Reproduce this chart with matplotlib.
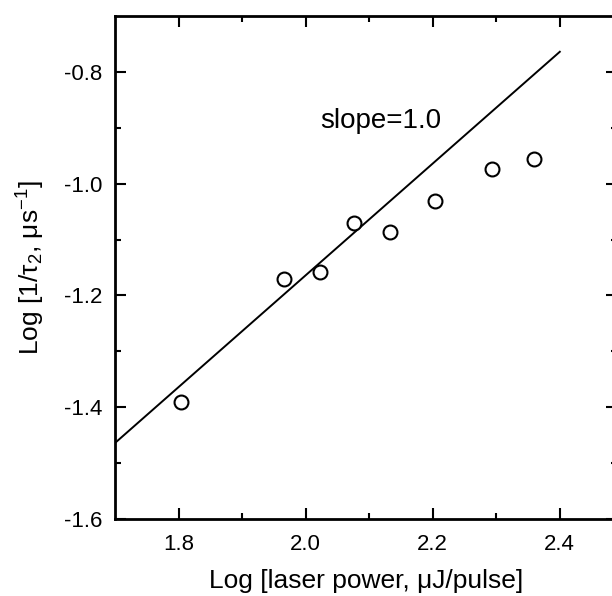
import numpy as np
import matplotlib.pyplot as plt

# измеренные точки (лог мощности лазера, лог 1/tau2)
log_power = [1.804, 1.966, 2.022, 2.076, 2.133, 2.203, 2.294, 2.360]
log_rate = [-1.391, -1.170, -1.158, -1.071, -1.086, -1.031, -0.974, -0.955]

# прямая с наклоном 1.0
fit_x = [1.7, 2.4]
fit_slope = 1.0
fit_icpt = -3.164

x_ticks = [1.8, 2.0, 2.2, 2.4]
y_ticks = [-1.6, -1.4, -1.2, -1.0, -0.8]

plt.rcParams['font.family'] = ['Liberation Sans', 'DejaVu Sans']
plt.rcParams['mathtext.fontset'] = 'custom'
plt.rcParams['mathtext.rm'] = 'Liberation Sans'
plt.rcParams['mathtext.it'] = 'Liberation Sans'

fig = plt.figure(figsize=(6.12, 5.96), dpi=100)
ax = fig.add_axes([115 / 612, 77 / 596, 502 / 612, 503 / 596])

fx = np.array(fit_x)
ax.plot(fx, fit_slope * fx + fit_icpt, color='black', lw=1.4)
ax.plot(log_power, log_rate, 'o', ms=10, mfc='white', mec='black', mew=1.5)

ax.text(2.119, -0.8875, 'slope=1.0', fontsize=20, ha='center', va='center')

ax.set_xlim(1.7, 2.49)
ax.set_ylim(-1.6, -0.70)
ax.set_xticks(x_ticks)
ax.set_xticklabels(['%.1f' % v for v in x_ticks])
ax.set_yticks(y_ticks)
ax.set_yticklabels(['%.1f' % v for v in y_ticks])
ax.set_xticks(np.arange(1.9, 2.45, 0.2), minor=True)
ax.set_yticks(np.arange(-1.5, -0.75, 0.2), minor=True)

ax.tick_params(which='both', direction='in', top=True, right=True, labelsize=16, width=1.5)
ax.tick_params(which='major', length=8)
ax.tick_params(axis='x', which='major', pad=11)
ax.tick_params(axis='y', which='major', pad=9)
ax.tick_params(which='minor', length=4)
for s in ax.spines.values():
    s.set_linewidth(2)

ax.set_xlabel('Log [laser power, μJ/pulse]', fontsize=19, labelpad=10)
ax.set_ylabel('Log [1/τ$_2$, μs$^{-1}$]', fontsize=19, labelpad=12)

fig.savefig('out.png', dpi=100)
